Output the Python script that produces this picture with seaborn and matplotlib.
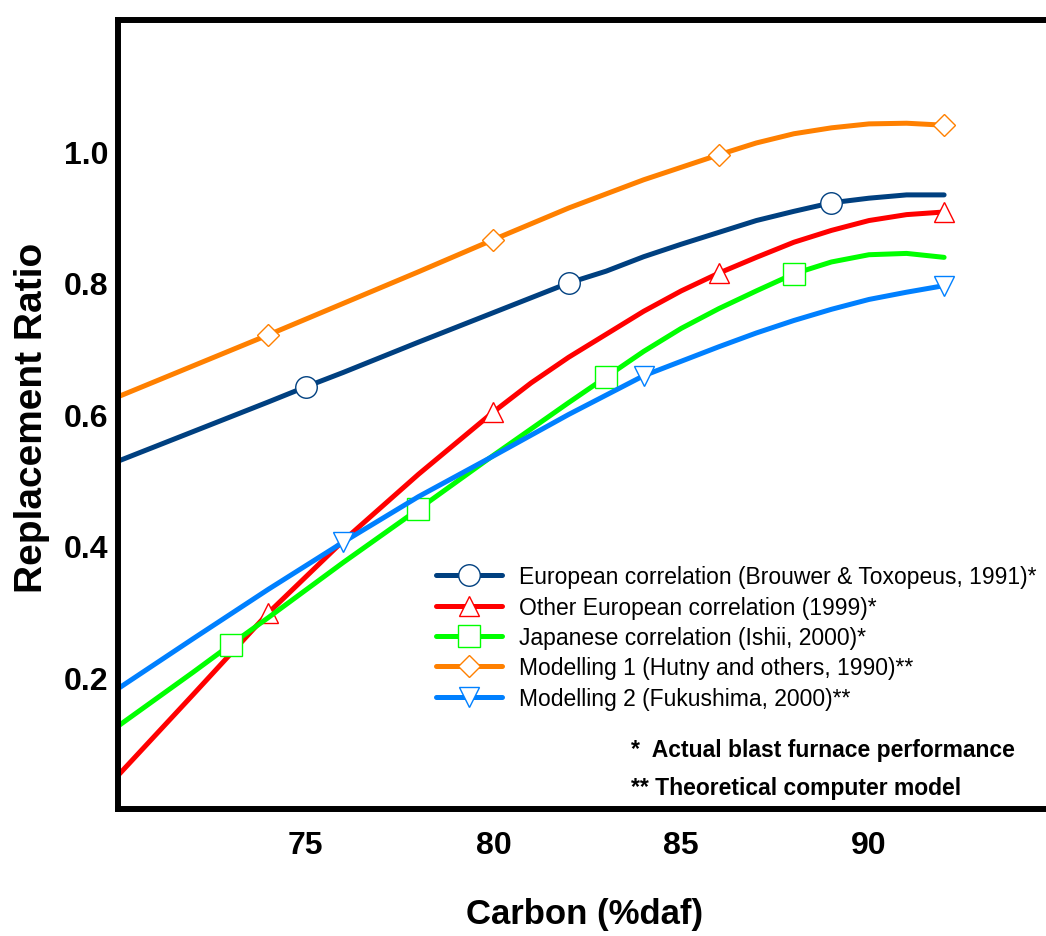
import matplotlib
matplotlib.use('Agg')
import matplotlib.pyplot as plt
import seaborn as sns
import pandas as pd

# Valores (Carbon %daf x Replacement Ratio)
carbon_euro = [70, 72, 74, 75, 76, 78, 80, 82, 83, 84, 85, 86, 87, 88, 89, 90, 91, 92]
ratio_euro = [0.529, 0.574, 0.619, 0.642, 0.664, 0.710, 0.755, 0.800, 0.818, 0.840,
              0.859, 0.877, 0.895, 0.909, 0.922, 0.929, 0.934, 0.934]
marks_euro = [75, 82, 89]

carbon_other = [70, 72, 74, 76, 78, 80, 81, 82, 83, 84, 85, 86, 87, 88, 89, 90, 91, 92]
ratio_other = [0.051, 0.174, 0.298, 0.408, 0.509, 0.604, 0.648, 0.687, 0.722, 0.757,
               0.788, 0.815, 0.839, 0.862, 0.880, 0.895, 0.904, 0.908]
marks_other = [74, 80, 86, 92]

carbon_japan = [70, 72, 73, 74, 76, 78, 80, 81, 82, 83, 84, 85, 86, 87, 88, 89, 90, 91, 92]
ratio_japan = [0.126, 0.208, 0.250, 0.291, 0.375, 0.456, 0.538, 0.578, 0.618, 0.657,
               0.696, 0.731, 0.761, 0.788, 0.814, 0.832, 0.843, 0.845, 0.839]
marks_japan = [73, 78, 83, 88]

carbon_mod1 = [70, 72, 74, 76, 78, 80, 82, 84, 86, 87, 88, 89, 90, 91, 92]
ratio_mod1 = [0.627, 0.674, 0.721, 0.769, 0.817, 0.866, 0.914, 0.957, 0.995, 1.013,
              1.027, 1.036, 1.042, 1.043, 1.040]
marks_mod1 = [74, 80, 86, 92]

carbon_mod2 = [70, 72, 74, 76, 78, 80, 82, 84, 85, 86, 87, 88, 89, 90, 91, 92]
ratio_mod2 = [0.183, 0.259, 0.334, 0.406, 0.475, 0.537, 0.600, 0.659, 0.681, 0.703,
              0.724, 0.743, 0.760, 0.775, 0.786, 0.796]
marks_mod2 = [76, 84, 92]

labels = [
    'European correlation (Brouwer & Toxopeus, 1991)*',
    'Other European correlation (1999)*',
    'Japanese correlation (Ishii, 2000)*',
    'Modelling 1 (Hutny and others, 1990)**',
    'Modelling 2 (Fukushima, 2000)**',
]
x_ticks = [75, 80, 85, 90]
y_ticks = [0.2, 0.4, 0.6, 0.8, 1.0]

# estilo de cada curva: cor, marcador, tamanho do marcador
estilos = [
    ('#004080', 'o', 15.5),
    ('#ff0000', '^', 15),
    ('#00ff00', 's', 15.5),
    ('#ff8000', 'D', 11.5),
    ('#0080ff', 'v', 15),
]
dados = [
    (carbon_euro, ratio_euro, marks_euro),
    (carbon_other, ratio_other, marks_other),
    (carbon_japan, ratio_japan, marks_japan),
    (carbon_mod1, ratio_mod1, marks_mod1),
    (carbon_mod2, ratio_mod2, marks_mod2),
]

sns.set_style('white')
plt.rcParams['font.family'] = ['Liberation Sans', 'DejaVu Sans']
plt.rcParams['text.color'] = 'black'
plt.rcParams['axes.labelcolor'] = 'black'
plt.rcParams['xtick.color'] = 'black'
plt.rcParams['ytick.color'] = 'black'

W, H = 1046, 937
fig = plt.figure(figsize=(W / 100, H / 100), dpi=100)
ax = fig.add_axes([118 / W, (H - 810) / H, (W - 118) / W, (810 - 21) / H])

for (xs, ys, marks), label, (cor, mk, ms) in zip(dados, labels, estilos):
    df = pd.DataFrame({'carbon': xs, 'ratio': ys})
    idx = [xs.index(m) for m in marks]
    sns.lineplot(data=df, x='carbon', y='ratio', ax=ax, color=cor, linewidth=3.6,
                 errorbar=None, label=label, marker=mk, markevery=idx,
                 markersize=ms, markerfacecolor='white', markeredgecolor=cor,
                 markeredgewidth=1.0, solid_capstyle='round', solid_joinstyle='round')

ax.set_xlim(70, 70 + 928 / 37.55)
ax.set_ylim(0, 1.2)

ax.set_xticks(x_ticks)
ax.set_xticks([77.5, 82.5, 87.5], minor=True)
ax.set_yticks(y_ticks)
ax.set_yticks([0.3, 0.5, 0.7, 0.9], minor=True)
ax.set_yticklabels([f'{v:.1f}' for v in y_ticks])
ax.set_xticklabels([str(v) for v in x_ticks])

ax.tick_params(axis='both', which='both', direction='in', color='#333333', width=0.8,
               labelcolor='black')
ax.tick_params(axis='x', which='both', length=6.5, pad=15, labelsize=23)
ax.tick_params(axis='y', which='both', length=5, pad=7, labelsize=23)
for t in ax.get_xticklabels() + ax.get_yticklabels():
    t.set_fontweight('bold')

for lado in ['left', 'bottom', 'top']:
    ax.spines[lado].set_linewidth(4.3)
    ax.spines[lado].set_color('black')
ax.spines['right'].set_visible(False)

ax.set_xlabel('Carbon (%daf)', fontsize=25, fontweight='bold', color='black')
ax.xaxis.set_label_coords(0.503, -0.1115)
ax.set_ylabel('Replacement Ratio', fontsize=28, fontweight='bold', color='black')
ax.yaxis.set_label_coords(-0.073, 0.497)

leg = ax.legend(handles=ax.get_lines(), labels=labels, loc='center left',
                bbox_to_anchor=(436 / W, 1 - 638.5 / H), bbox_transform=fig.transFigure,
                frameon=False, fontsize=16.5, handlelength=2.88, handletextpad=0.74,
                labelspacing=0.32, borderpad=0, borderaxespad=0, numpoints=1)
for txt in leg.get_texts():
    txt.set_color('black')

fig.text(631 / W, 1 - 757 / H, '*  Actual blast furnace performance',
         fontsize=16.5, fontweight='bold', va='baseline', ha='left', color='black')
fig.text(631 / W, 1 - 795 / H, '** Theoretical computer model',
         fontsize=16.5, fontweight='bold', va='baseline', ha='left', color='black')

fig.savefig('out.png', dpi=100)
